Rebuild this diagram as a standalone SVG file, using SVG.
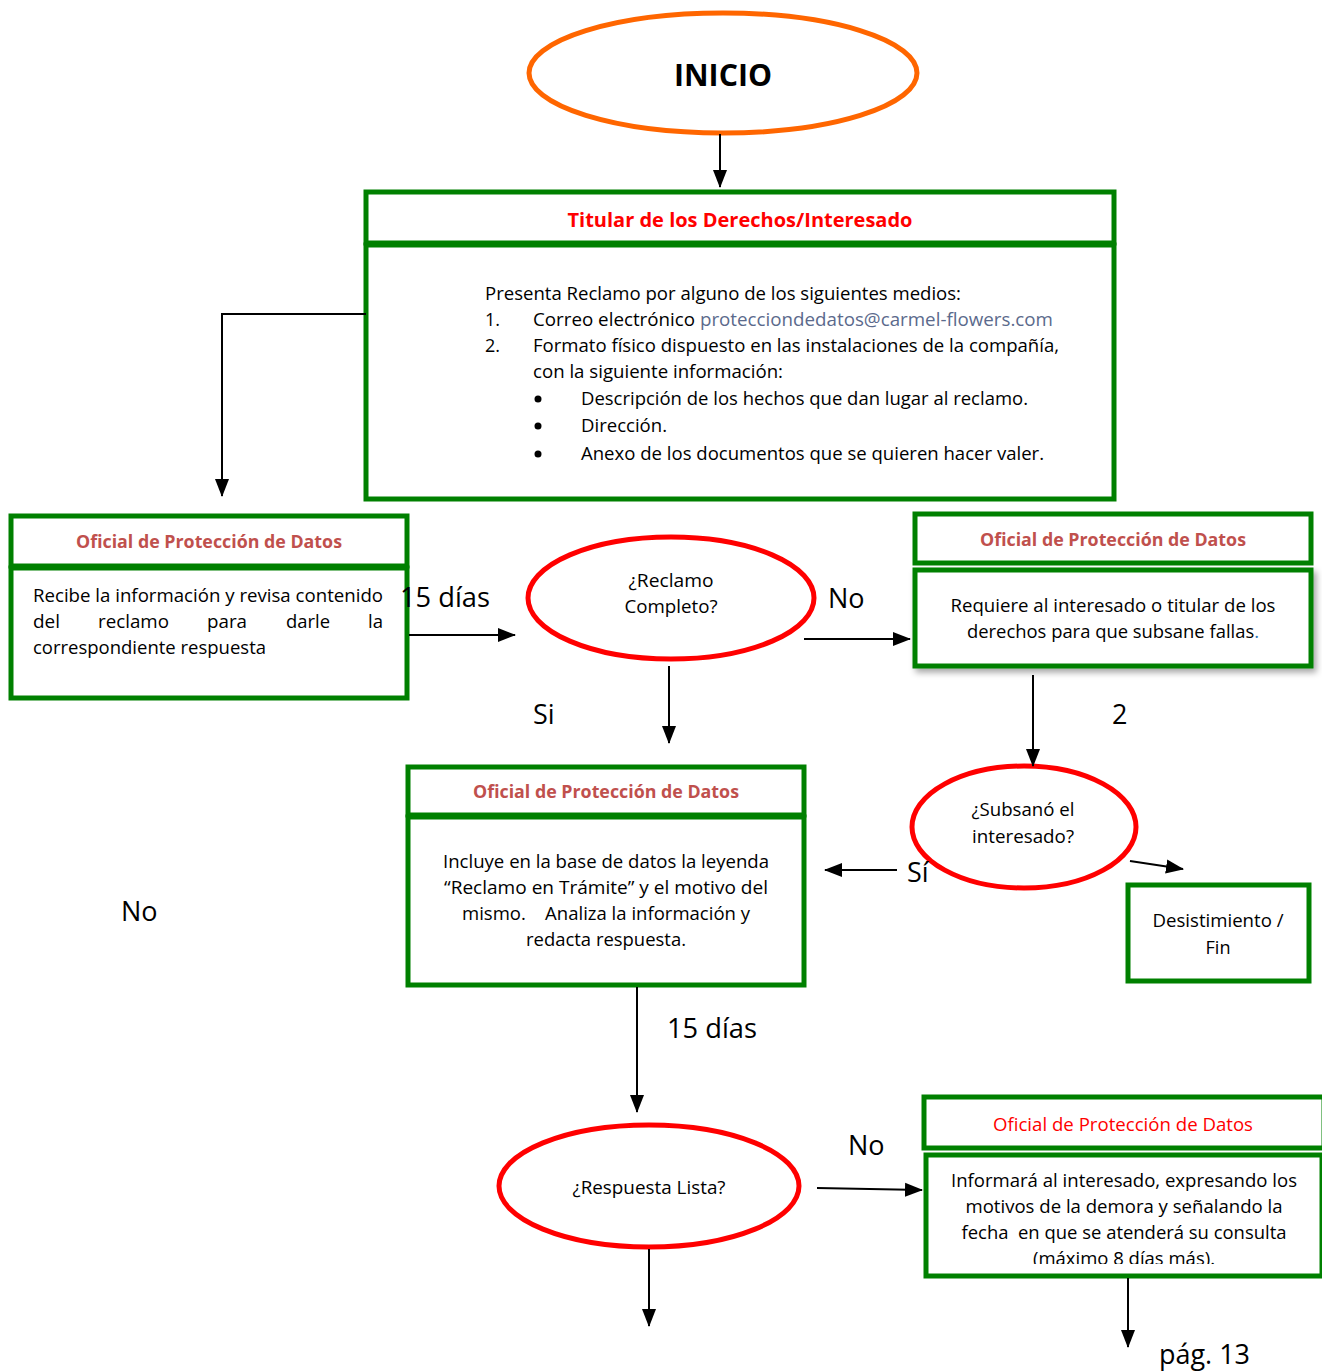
<svg xmlns="http://www.w3.org/2000/svg" width="1322" height="1372" viewBox="0 0 1322 1372">
<defs>
<marker id="ah" markerUnits="userSpaceOnUse" markerWidth="18" markerHeight="18" viewBox="0 0 18 18" refX="17" refY="9" orient="auto">
<path d="M0,2 L18,9 L0,16 Z" fill="#000"/>
</marker>
<filter id="sh" x="-10%" y="-20%" width="125%" height="150%">
<feDropShadow dx="3" dy="4" stdDeviation="3" flood-color="#000" flood-opacity="0.35"/>
</filter>
<clipPath id="clipBR"><rect x="930" y="1160" width="390" height="104"/></clipPath>
</defs>
<style>
text{font-family:"Open Sans","Liberation Sans",sans-serif;fill:#000}
.box{fill:#fff;stroke:#008000;stroke-width:5}
.dec{fill:#fff;stroke:#ff0000;stroke-width:5}
.hd{font-weight:bold;fill:#c0504d;font-size:17px;text-anchor:middle}
.bt{font-size:18px}
.c{text-anchor:middle}
.lbl{font-size:27px}
.con{stroke:#000;stroke-width:2;fill:none}
.arr{marker-end:url(#ah)}
</style>

<g id="inicio">
<ellipse cx="723" cy="73" rx="194" ry="60" fill="#fff" stroke="#ff6600" stroke-width="5"/>
<text x="723" y="86" font-size="31" font-weight="bold" text-anchor="middle" textLength="98" lengthAdjust="spacingAndGlyphs">INICIO</text>
</g>

<g id="titular">
<rect class="box" x="366" y="192" width="748" height="51"/>
<rect class="box" x="366" y="245" width="748" height="254"/>
<text x="740" y="227" font-size="19" font-weight="bold" style="fill:#ff0000" text-anchor="middle" textLength="345" lengthAdjust="spacingAndGlyphs">Titular de los Derechos/Interesado</text>
<text class="bt" x="485" y="300" textLength="476" lengthAdjust="spacingAndGlyphs">Presenta Reclamo por alguno de los siguientes medios:</text>
<text class="bt" x="485" y="326">1.</text>
<text class="bt" x="533" y="326" textLength="520" lengthAdjust="spacingAndGlyphs">Correo electrónico <tspan style="fill:#5b6a8c">protecciondedatos@carmel-flowers.com</tspan></text>
<text class="bt" x="485" y="352">2.</text>
<text class="bt" x="533" y="352" textLength="526" lengthAdjust="spacingAndGlyphs">Formato físico dispuesto en las instalaciones de la compañía,</text>
<text class="bt" x="533" y="378" textLength="250" lengthAdjust="spacingAndGlyphs">con la siguiente información:</text>
<circle cx="538" cy="399" r="3.5"/>
<circle cx="538" cy="426" r="3.5"/>
<circle cx="538" cy="454" r="3.5"/>
<text class="bt" x="581" y="405" textLength="447" lengthAdjust="spacingAndGlyphs">Descripción de los hechos que dan lugar al reclamo.</text>
<text class="bt" x="581" y="432" textLength="86" lengthAdjust="spacingAndGlyphs">Dirección.</text>
<text class="bt" x="581" y="460" textLength="463" lengthAdjust="spacingAndGlyphs">Anexo de los documentos que se quieren hacer valer.</text>
</g>

<g id="oficial-recibe">
<rect class="box" x="11" y="516" width="396" height="50"/>
<rect class="box" x="11" y="568" width="396" height="130"/>
<text class="hd" x="209" y="548" textLength="266" lengthAdjust="spacingAndGlyphs">Oficial de Protección de Datos</text>
<text class="bt" x="33" y="602" textLength="350" lengthAdjust="spacingAndGlyphs">Recibe la información y revisa contenido</text>
<text class="bt" x="33" y="628" textLength="27" lengthAdjust="spacingAndGlyphs">del</text>
<text class="bt" x="98" y="628" textLength="71" lengthAdjust="spacingAndGlyphs">reclamo</text>
<text class="bt" x="207" y="628" textLength="40" lengthAdjust="spacingAndGlyphs">para</text>
<text class="bt" x="286" y="628" textLength="44" lengthAdjust="spacingAndGlyphs">darle</text>
<text class="bt" x="368" y="628" textLength="15" lengthAdjust="spacingAndGlyphs">la</text>
<text class="bt" x="33" y="654" textLength="233" lengthAdjust="spacingAndGlyphs">correspondiente respuesta</text>
</g>

<g id="reclamo-completo">
<ellipse class="dec" cx="671" cy="598" rx="143" ry="61"/>
<text class="bt c" x="671" y="587" textLength="85" lengthAdjust="spacingAndGlyphs">¿Reclamo</text>
<text class="bt c" x="671" y="613" textLength="93" lengthAdjust="spacingAndGlyphs">Completo?</text>
</g>

<g id="oficial-requiere">
<rect class="box" x="915" y="514" width="396" height="49"/>
<rect class="box" x="915" y="570" width="396" height="96" filter="url(#sh)"/>
<text class="hd" x="1113" y="546" textLength="266" lengthAdjust="spacingAndGlyphs">Oficial de Protección de Datos</text>
<text class="bt c" x="1113" y="612" textLength="325" lengthAdjust="spacingAndGlyphs">Requiere al interesado o titular de los</text>
<text class="bt c" x="1113" y="638" textLength="292" lengthAdjust="spacingAndGlyphs">derechos para que subsane fallas<tspan style="fill:#2e74b5">.</tspan></text>
</g>

<g id="oficial-incluye">
<rect class="box" x="408" y="767" width="396" height="48"/>
<rect class="box" x="408" y="817" width="396" height="168"/>
<text class="hd" x="606" y="798" textLength="266" lengthAdjust="spacingAndGlyphs">Oficial de Protección de Datos</text>
<text class="bt c" x="606" y="868" textLength="326" lengthAdjust="spacingAndGlyphs">Incluye en la base de datos la leyenda</text>
<text class="bt c" x="606" y="894" textLength="324" lengthAdjust="spacingAndGlyphs">“Reclamo en Trámite” y el motivo del</text>
<text class="bt c" x="606" y="920" xml:space="preserve" textLength="288" lengthAdjust="spacingAndGlyphs">mismo.    Analiza la información y</text>
<text class="bt c" x="606" y="946" textLength="160" lengthAdjust="spacingAndGlyphs">redacta respuesta.</text>
</g>

<g id="subsano">
<ellipse class="dec" cx="1024" cy="827" rx="112" ry="61"/>
<text class="bt c" x="1023" y="816" textLength="103" lengthAdjust="spacingAndGlyphs">¿Subsanó el</text>
<text class="bt c" x="1023" y="843" textLength="102" lengthAdjust="spacingAndGlyphs">interesado?</text>
</g>

<g id="desistimiento">
<rect class="box" x="1128" y="885" width="181" height="96"/>
<text class="bt c" x="1218" y="927" textLength="131" lengthAdjust="spacingAndGlyphs">Desistimiento /</text>
<text class="bt c" x="1218" y="954" textLength="25" lengthAdjust="spacingAndGlyphs">Fin</text>
</g>

<g id="respuesta-lista">
<ellipse class="dec" cx="649" cy="1186" rx="150" ry="61"/>
<text class="bt c" x="649" y="1194" textLength="153" lengthAdjust="spacingAndGlyphs">¿Respuesta Lista?</text>
</g>

<g id="oficial-informara">
<rect class="box" x="924" y="1097" width="400" height="51"/>
<rect class="box" x="926" y="1155" width="396" height="121"/>
<text x="1123" y="1131" font-size="18" text-anchor="middle" style="fill:#ff0000" textLength="260" lengthAdjust="spacingAndGlyphs">Oficial de Protección de Datos</text>
<g clip-path="url(#clipBR)">
<text class="bt c" x="1124" y="1187" textLength="346" lengthAdjust="spacingAndGlyphs">Informará al interesado, expresando los</text>
<text class="bt c" x="1124" y="1213" textLength="317" lengthAdjust="spacingAndGlyphs">motivos de la demora y señalando la</text>
<text class="bt c" x="1124" y="1239" xml:space="preserve" textLength="325" lengthAdjust="spacingAndGlyphs">fecha  en que se atenderá su consulta</text>
<text class="bt c" x="1124" y="1265" textLength="182" lengthAdjust="spacingAndGlyphs">(máximo 8 días más).</text>
</g>
</g>

<g id="labels">
<text class="lbl" x="400" y="607" textLength="90" lengthAdjust="spacingAndGlyphs">15 días</text>
<text class="lbl" x="828" y="608">No</text>
<text class="lbl" x="533" y="724">Si</text>
<text class="lbl" x="1112" y="724">2</text>
<text class="lbl" x="907" y="882">Sí</text>
<text class="lbl" x="121" y="921">No</text>
<text class="lbl" x="667" y="1038" textLength="90" lengthAdjust="spacingAndGlyphs">15 días</text>
<text class="lbl" x="848" y="1155">No</text>
<text class="lbl" x="1159" y="1364" textLength="91" lengthAdjust="spacingAndGlyphs">pág. 13</text>
</g>

<g id="connectors">
<line class="con arr" x1="720" y1="134" x2="720" y2="187"/>
<polyline class="con arr" points="366,314 222,314 222,496"/>
<line class="con arr" x1="409" y1="635" x2="515" y2="635"/>
<line class="con arr" x1="804" y1="639" x2="910" y2="639"/>
<line class="con arr" x1="669" y1="666" x2="669" y2="743"/>
<line class="con arr" x1="1033" y1="675" x2="1033" y2="766"/>
<line class="con arr" x1="897" y1="870" x2="825" y2="870"/>
<line class="con arr" x1="1130" y1="861" x2="1183" y2="869"/>
<line class="con arr" x1="637" y1="987" x2="637" y2="1112"/>
<line class="con arr" x1="649" y1="1249" x2="649" y2="1326"/>
<line class="con arr" x1="817" y1="1188" x2="922" y2="1190"/>
<line class="con arr" x1="1128" y1="1278" x2="1128" y2="1347"/>
</g>
</svg>
